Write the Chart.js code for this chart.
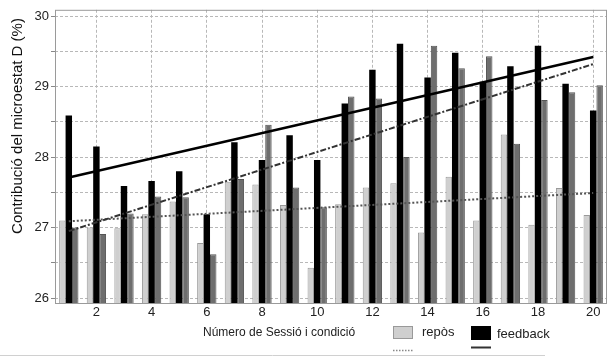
<!DOCTYPE html>
<html>
<head>
<meta charset="utf-8">
<script src="https://cdn.jsdelivr.net/npm/chart.js@4/dist/chart.umd.min.js"></script>
<style>
  html, body { margin: 0; padding: 0; background: #fff; }
  #wrap { width: 611px; height: 358px; }
</style>
</head>
<body>
<div id="wrap"><canvas id="myChart" width="611" height="358"></canvas></div>
<script>
// Sessions 1..20
const sessions = ["1","2","3","4","5","6","7","8","9","10","11","12","13","14","15","16","17","18","19","20"];

// Bar values (% contribution of microstate D)
const repos     = [27.10, 27.00, 26.99, 27.19, 27.37, 26.78, 27.65, 27.61, 27.32, 26.43,
                   27.33, 27.57, 27.63, 26.93, 27.72, 27.10, 28.32, 27.04, 27.56, 27.18];
const feedback  = [28.59, 28.15, 27.59, 27.66, 27.80, 27.19, 28.21, 27.96, 28.31, 27.96,
                   28.76, 29.24, 29.61, 29.13, 29.48, 29.07, 29.29, 29.58, 29.04, 28.66];
const condicio3 = [27.00, 26.91, 27.20, 27.44, 27.43, 26.62, 27.69, 28.46, 27.57, 27.29,
                   28.86, 28.83, 28.00, 29.58, 29.26, 29.43, 28.19, 28.81, 28.92, 29.02];

// Trend lines: value at session 1 and at session 20
const tendRepos     = [27.09, 27.49];
const tendFeedback  = [27.71, 29.42];
const tendCondicio3 = [26.95, 29.32];

// Y axis ticks
const yTicks = [26, 26.5, 27, 27.5, 28, 28.5, 29, 29.5, 30];

const FONT = "'Liberation Sans', Arial, sans-serif";

function endpoints(pair) {
  return sessions.map((_, i) => i === 0 ? pair[0] : (i === sessions.length - 1 ? pair[1] : null));
}

const decor = {
  id: "decor",
  afterDraw(chart) {
    const ctx = chart.ctx;
    const a = chart.chartArea;
    ctx.save();
    // plot frame
    ctx.strokeStyle = "#9a9a9a";
    ctx.lineWidth = 1;
    ctx.strokeRect(a.left + 0.5, a.top + 0.5, a.right - a.left - 1, a.bottom - a.top);

    // y title
    ctx.fillStyle = "#111";
    ctx.font = "15px " + FONT;
    ctx.textAlign = "center";
    ctx.textBaseline = "middle";
    ctx.translate(18, 126);
    ctx.rotate(-Math.PI / 2);
    ctx.fillText("Contribució del microestat D (%)", 0, 0);
    ctx.setTransform(1, 0, 0, 1, 0, 0);

    // x title
    ctx.font = "12px " + FONT;
    ctx.textAlign = "left";
    ctx.fillStyle = "#222";
    ctx.fillText("Número de Sessió i condició", 203, 333);

    // legend
    ctx.fillStyle = "#cfcfcf";
    ctx.fillRect(393, 326, 20, 13);
    ctx.strokeStyle = "#999";
    ctx.strokeRect(393.5, 326.5, 19, 12);
    ctx.fillStyle = "#000";
    ctx.fillRect(471, 326, 20, 14);
    ctx.fillStyle = "#222";
    ctx.font = "13px " + FONT;
    ctx.fillText("repòs", 422, 332);
    ctx.fillText("feedback", 497, 334);

    ctx.strokeStyle = "#888";
    ctx.lineWidth = 1.5;
    ctx.setLineDash([1.5, 1.5]);
    ctx.beginPath();
    ctx.moveTo(393, 350.5);
    ctx.lineTo(413, 350.5);
    ctx.stroke();
    ctx.setLineDash([]);
    ctx.strokeStyle = "#333";
    ctx.lineWidth = 2;
    ctx.beginPath();
    ctx.moveTo(471, 347.5);
    ctx.lineTo(491, 347.5);
    ctx.stroke();

    // figure bottom rule
    ctx.strokeStyle = "#d0d0d0";
    ctx.lineWidth = 1;
    ctx.beginPath();
    ctx.moveTo(0, 355.5);
    ctx.lineTo(545, 355.5);
    ctx.stroke();
    ctx.restore();
  }
};

const ctx = document.getElementById("myChart").getContext("2d");

new Chart(ctx, {
  type: "bar",
  data: {
    labels: sessions,
    datasets: [
      {
        type: "line",
        label: "tendència feedback",
        data: endpoints(tendFeedback),
        borderColor: "#000",
        borderWidth: 2.5,
        pointRadius: 0,
        spanGaps: true,
        fill: false,
        order: 0,
      },
      {
        type: "line",
        label: "tendència condició 3",
        data: endpoints(tendCondicio3),
        borderColor: "#333",
        borderWidth: 2,
        borderDash: [6, 2, 2, 2],
        pointRadius: 0,
        spanGaps: true,
        fill: false,
        order: 0,
      },
      {
        type: "line",
        label: "tendència repòs",
        data: endpoints(tendRepos),
        borderColor: "#555",
        borderWidth: 2,
        borderDash: [2, 2],
        pointRadius: 0,
        spanGaps: true,
        fill: false,
        order: 0,
      },
      {
        label: "repòs",
        data: repos,
        backgroundColor: "#cfcfcf",
        borderColor: "#9a9a9a",
        borderWidth: 1,
        categoryPercentage: 0.7,
        barPercentage: 1,
        order: 1,
      },
      {
        label: "feedback",
        data: feedback,
        backgroundColor: "#000",
        borderWidth: 0,
        categoryPercentage: 0.7,
        barPercentage: 1,
        order: 1,
      },
      {
        label: "condició 3",
        data: condicio3,
        backgroundColor: "#6e6e6e",
        borderColor: "#555",
        borderWidth: 1,
        categoryPercentage: 0.7,
        barPercentage: 1,
        order: 1,
      },
    ],
  },
  options: {
    responsive: false,
    animation: false,
    layout: { padding: { left: 0, top: 6, right: 4, bottom: 0 } },
    plugins: {
      legend: { display: false },
      tooltip: { enabled: false },
    },
    scales: {
      x: {
        offset: true,
        grid: {
          offset: false,
          color: (c) => (c.index % 2 === 1 ? "#b8b8b8" : "rgba(0,0,0,0)"),
          tickColor: "rgba(0,0,0,0)",
          tickLength: 2,
        },
        border: { display: false, dash: [3, 2] },
        ticks: {
          autoSkip: false,
          maxRotation: 0,
          padding: 0,
          color: "#222",
          font: { family: FONT, size: 13 },
          callback: function (val, i) {
            return (i + 1) % 2 === 0 ? this.getLabelForValue(val) : "";
          },
        },
        afterFit: (s) => { s.height = 55; },
      },
      y: {
        min: 25.93,
        max: 30.09,
        afterBuildTicks: (s) => { s.ticks = yTicks.map((v) => ({ value: v })); },
        grid: {
          color: "#b8b8b8",
          tickColor: "#888",
          tickLength: 4,
        },
        border: { display: false, dash: [3, 2] },
        ticks: {
          padding: 2,
          color: "#222",
          font: { family: FONT, size: 13 },
          callback: (v) => (Number.isInteger(v) ? v : ""),
        },
        afterFit: (s) => { s.width = 55; },
      },
    },
  },
  plugins: [decor],
});
</script>
</body>
</html>
